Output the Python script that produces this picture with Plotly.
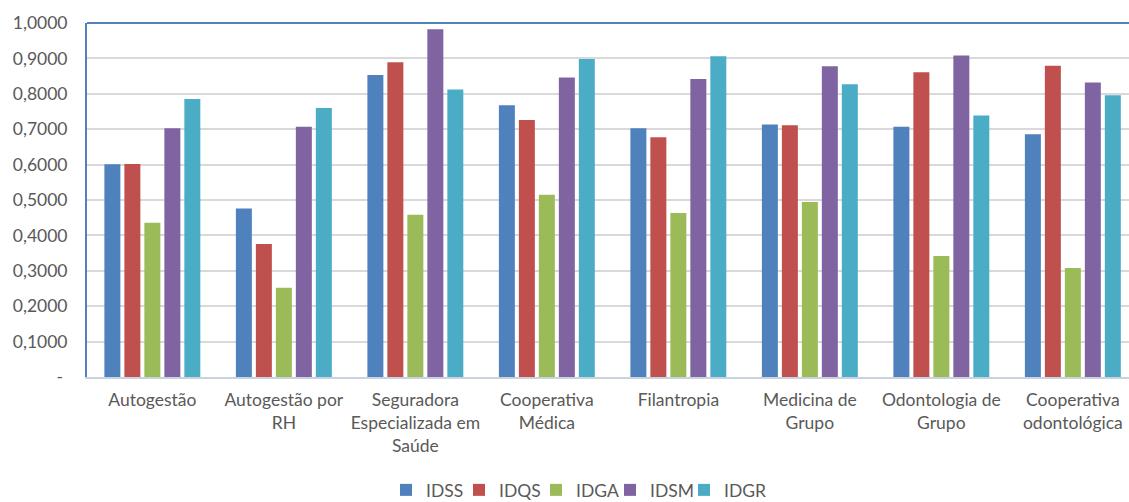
import plotly.graph_objects as go

# Categories and index values per operator type
categories = [
    "Autogestão",
    "Autogestão por<br>RH",
    "Seguradora<br>Especializada em<br>Saúde",
    "Cooperativa<br>Médica",
    "Filantropia",
    "Medicina de<br>Grupo",
    "Odontologia de<br>Grupo",
    "Cooperativa<br>odontológica",
]

idss = [0.601, 0.476, 0.853, 0.768, 0.703, 0.713, 0.707, 0.686]
idqs = [0.602, 0.376, 0.889, 0.726, 0.677, 0.711, 0.861, 0.879]
idga = [0.436, 0.252, 0.458, 0.515, 0.463, 0.494, 0.342, 0.308]
idsm = [0.703, 0.707, 0.982, 0.846, 0.842, 0.878, 0.908, 0.832]
idgr = [0.785, 0.760, 0.812, 0.898, 0.906, 0.827, 0.739, 0.796]

series_names = ["IDSS", "IDQS", "IDGA", "IDSM", "IDGR"]
series_values = [idss, idqs, idga, idsm, idgr]
series_colors = ["#4F81BD", "#C0504D", "#9BBB59", "#8064A2", "#4BACC6"]

y_tickvals = [0, 0.1, 0.2, 0.3, 0.4, 0.5, 0.6, 0.7, 0.8, 0.9, 1.0]
y_ticktext = ["-\u00a0", "0,1000", "0,2000", "0,3000", "0,4000", "0,5000",
              "0,6000", "0,7000", "0,8000", "0,9000", "1,0000"]

FONT = "Lato"
FONT_SIZE = 17.5
TEXT_COLOR = "#595959"

# Plot area geometry (px) used to place one legend per series along the bottom
PLOT_LEFT, PLOT_WIDTH = 87, 1042
PLOT_BOTTOM_MARGIN, PLOT_HEIGHT = 125, 354
LEGEND_DROP = 6
legend_left_px = [386, 459, 536, 610, 684]

fig = go.Figure()
legend_layouts = {}
for i, (name, vals, col) in enumerate(zip(series_names, series_values, series_colors)):
    key = "legend" if i == 0 else f"legend{i + 1}"
    fig.add_trace(go.Bar(
        name=name,
        x=list(range(len(categories))),
        y=vals,
        marker=dict(color=col, line=dict(width=0)),
        legend=key,
        showlegend=True,
    ))
    legend_layouts[key] = dict(
        orientation="h",
        x=(legend_left_px[i] - PLOT_LEFT) / PLOT_WIDTH, xanchor="left",
        y=-(PLOT_BOTTOM_MARGIN + LEGEND_DROP) / PLOT_HEIGHT, yanchor="bottom",
        font=dict(family=FONT, size=FONT_SIZE, color=TEXT_COLOR),
        itemwidth=30,
        bgcolor="rgba(0,0,0,0)",
    )

fig.update_layout(
    width=1129,
    height=502,
    showlegend=True,
    margin=dict(l=PLOT_LEFT, r=0, t=23, b=PLOT_BOTTOM_MARGIN, autoexpand=False),
    paper_bgcolor="white",
    plot_bgcolor="white",
    barmode="group",
    bargap=0.24,
    bargroupgap=0.2,
    font=dict(family=FONT, size=FONT_SIZE, color=TEXT_COLOR),
    xaxis=dict(
        tickmode="array",
        tickvals=list(range(len(categories))),
        ticktext=categories,
        range=[-0.497, 7.427],
        showgrid=False,
        showline=True,
        linecolor="#C9D3DE",
        linewidth=2,
        ticks="",
        automargin=False,
        ticklabelstandoff=6,
        tickfont=dict(family=FONT, size=FONT_SIZE, color=TEXT_COLOR),
        fixedrange=True,
    ),
    yaxis=dict(
        range=[0, 1.0],
        tickmode="array",
        tickvals=y_tickvals,
        ticktext=y_ticktext,
        showgrid=True,
        gridcolor="#D9D9D9",
        gridwidth=2,
        showline=True,
        linecolor="#4F81BD",
        linewidth=2,
        zeroline=False,
        ticks="",
        automargin=False,
        ticklabelstandoff=14,
        tickfont=dict(family=FONT, size=FONT_SIZE, color=TEXT_COLOR),
        fixedrange=True,
    ),
    shapes=[
        dict(type="line", xref="paper", yref="paper", x0=0, x1=1, y0=1, y1=1,
             line=dict(color="#4F81BD", width=2)),
    ],
    **legend_layouts,
)

fig.write_html("out.html")
